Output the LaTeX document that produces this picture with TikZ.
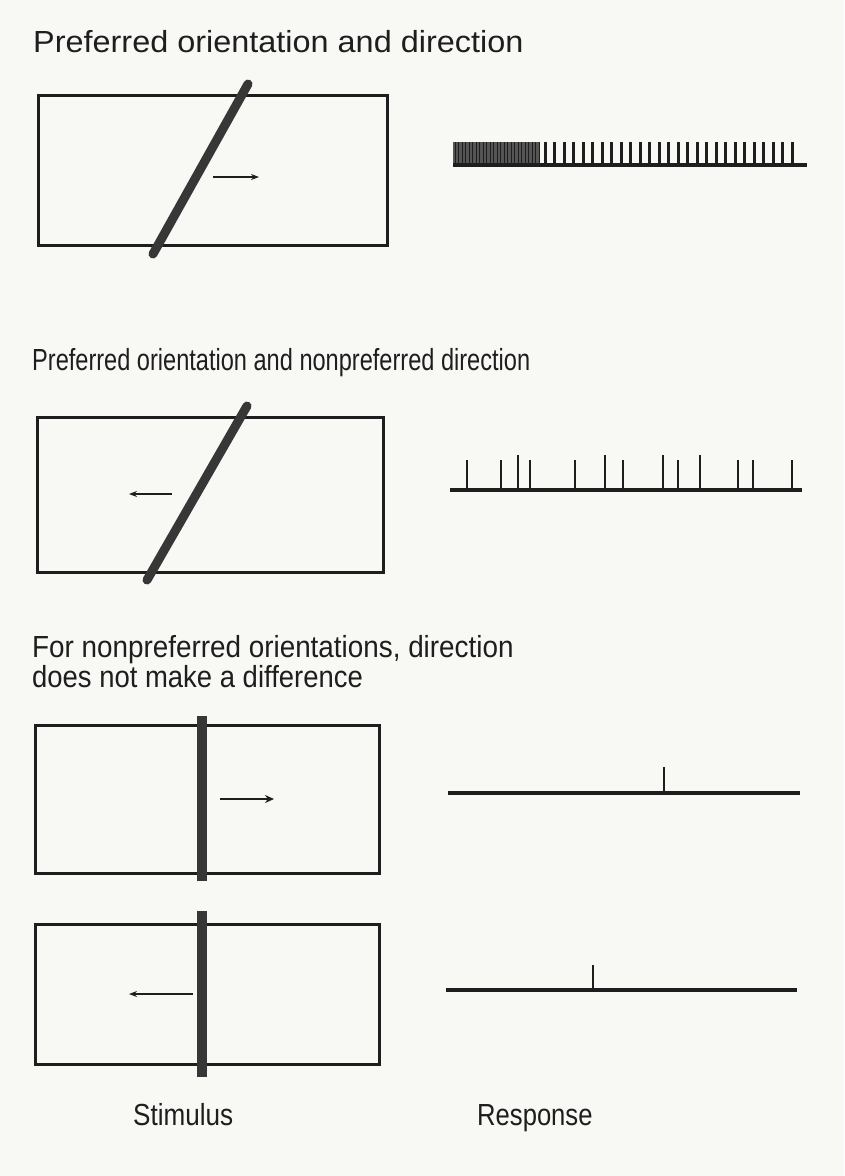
\documentclass[tikz,border=0pt]{standalone}
\usepackage{fontspec}
\setmainfont{Liberation Sans}
\usetikzlibrary{arrows.meta}
\definecolor{bg}{RGB}{248,248,245}
\definecolor{ink}{RGB}{30,30,30}
\definecolor{barc}{RGB}{55,55,55}
\definecolor{densec}{RGB}{85,85,85}
\tikzset{
 lbl/.style={anchor=base west, inner sep=0pt, font=\fontsize{30.5}{30.5}\selectfont, text=ink},
 frame/.style={draw=ink, line width=3pt},
 bar/.style={draw=barc, line width=9pt, line cap=round},
 mv/.style={draw=ink, line width=1.6pt, -{Stealth[length=8pt,width=6pt]}},
 mvthick/.style={draw=ink, line width=2.6pt, -{Stealth[length=9pt,width=8pt]}},
 base/.style={draw=ink, line width=4pt},
 spike/.style={draw=ink, line width=2.5pt},
}
\begin{document}
\begin{tikzpicture}[x=1pt,y=-1pt]
\fill[bg] (0,0) rectangle (844,1176);
\useasboundingbox (0,0) rectangle (844,1176);

% titles
\node[lbl] (t1) at (33,52) {\scalebox{1.063}[1]{Preferred orientation and direction}};
\node[lbl] (t2) at (32,370) {\scalebox{0.773}[1]{Preferred orientation and nonpreferred direction}};
\node[lbl] (t3a) at (32,657) {\scalebox{0.913}[1]{For nonpreferred orientations, direction}};
\node[lbl] (t3b) at (32,687) {\scalebox{0.90}[1]{does not make a difference}};
\node[lbl] (stim) at (133,1125) {\scalebox{0.855}[1]{Stimulus}};
\node[lbl] (resp) at (477,1125) {\scalebox{0.84}[1]{Response}};

% panel 1 stimulus
\draw[frame] (38,95) rectangle (387,245);
\draw[bar] (153,254) -- (248,84);
\coordinate (a1s) at (213,177); \coordinate (a1e) at (259,177);
\draw[mv] (a1s) -- (a1e);

% panel 1 response
\fill[densec] (453,142) rectangle (540,165);
\foreach \x in {455,458.5,...,539} \draw[ink,line width=1pt] (\x,165) -- (\x,142);
\foreach \i in {0,...,26} \draw[spike,line width=3pt] (545+9.5*\i,165) -- (545+9.5*\i,142);
\draw[base] (453,165) -- (807,165);

% panel 2 stimulus
\draw[frame] (37,417) rectangle (383,572);
\draw[bar] (147,580) -- (247,406);
\coordinate (a2s) at (172,494); \coordinate (a2e) at (129,494);
\draw[mv] (a2s) -- (a2e);

% panel 2 response
\foreach \x/\t in {467/460,501/460,518/455,530/460,575/460,605/455,623/460,663/455,678/460,700/455,738/460,753/460,792/460}
  \draw[spike] (\x,490) -- (\x,\t);
\draw[base] (450,490) -- (802,490);

% panel 3 stimulus
\draw[frame] (35,725) rectangle (379,873);
\draw[bar,line cap=butt,line width=10pt] (202,716) -- (202,881);
\coordinate (a3s) at (220,799); \coordinate (a3e) at (274,799);
\draw[mvthick] (a3s) -- (a3e);

% panel 3 response
\draw[spike] (664,793) -- (664,767);
\draw[base] (448,793) -- (800,793);

% panel 4 stimulus
\draw[frame] (35,924) rectangle (379,1064);
\draw[bar,line cap=butt,line width=10pt] (202,911) -- (202,1077);
\coordinate (a4s) at (193,994); \coordinate (a4e) at (129,994);
\draw[mv] (a4s) -- (a4e);

% panel 4 response
\draw[spike] (593,990) -- (593,965);
\draw[base] (446,990) -- (797,990);
\end{tikzpicture}
\end{document}
